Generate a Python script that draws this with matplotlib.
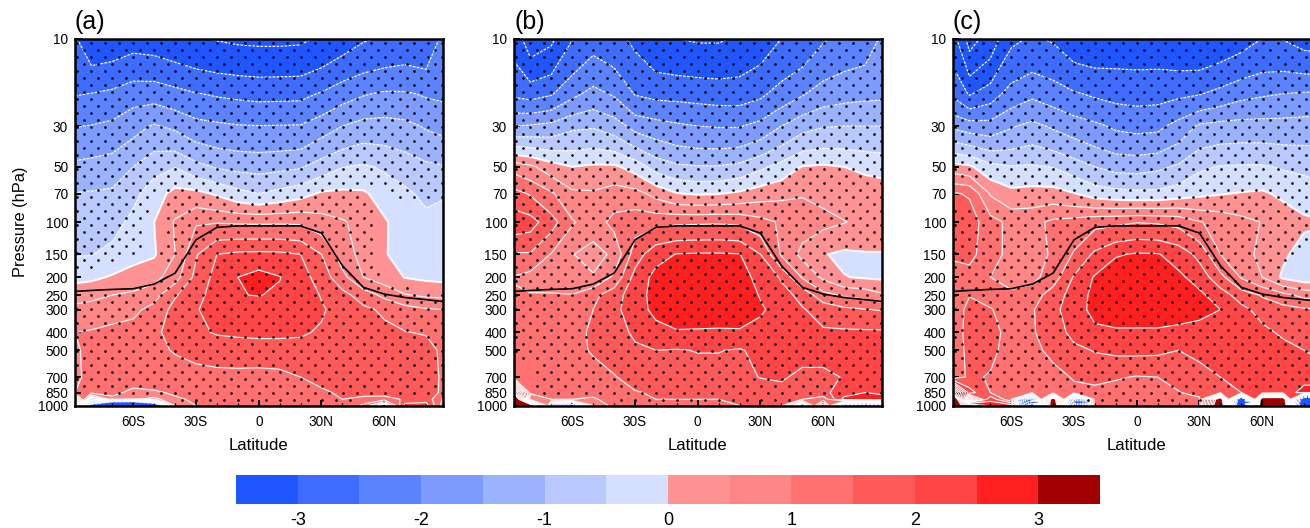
#to plot
import matplotlib
matplotlib.use('Agg')
import matplotlib.pyplot as plt
import numpy as np
from matplotlib.path import Path

plt.rcParams['font.family'] = ['Liberation Sans', 'DejaVu Sans']

### values
lats = [-87.86, -80, -70, -60, -50, -40, -30, -20, -10, 0, 10, 20, 30, 40, 50, 60, 70, 80, 87.86]
pres = [10, 20, 30, 50, 70, 100, 150, 200, 250, 300, 400, 500, 700, 850, 925, 1000]

temp_a = [
    [-2.95, -3.35, -3.3, -3.2, -3.25, -3.35, -3.45, -3.53, -3.58, -3.6, -3.6, -3.58, -3.43, -3.25, -3.05, -2.95, -2.85, -2.9, -2.4],
    [-2.53, -2.49, -2.4, -2.21, -2.2, -2.34, -2.48, -2.55, -2.6, -2.64, -2.63, -2.62, -2.46, -2.2, -2.04, -1.94, -1.95, -2.05, -2.1],
    [-2.02, -1.98, -1.89, -1.66, -1.45, -1.6, -1.83, -1.91, -1.97, -1.99, -1.98, -1.97, -1.73, -1.5, -1.32, -1.3, -1.37, -1.55, -1.63],
    [-1.38, -1.33, -1.25, -1.0, -0.65, -0.52, -0.85, -1.05, -1.13, -1.16, -1.12, -1.05, -0.77, -0.52, -0.43, -0.57, -0.73, -0.9, -0.96],
    [-0.98, -0.96, -0.92, -0.62, -0.25, 0.17, 0.14, -0.07, -0.35, -0.5, -0.35, -0.18, 0.07, 0.11, 0.07, -0.2, -0.4, -0.63, -0.55],
    [-0.77, -0.76, -0.69, -0.37, 0.0, 0.55, 0.95, 0.97, 0.94, 0.93, 0.94, 0.93, 0.72, 0.55, 0.33, 0.06, -0.25, -0.35, -0.3],
    [-0.53, -0.52, -0.35, -0.12, -0.05, 0.5, 1.45, 2.0, 2.1, 2.12, 2.1, 2.0, 1.5, 0.75, 0.33, 0.05, -0.25, -0.3, -0.3],
    [-0.14, -0.1, 0.05, 0.15, 0.33, 0.78, 1.65, 2.17, 2.5, 2.7, 2.52, 2.2, 1.78, 1.15, 0.5, 0.25, -0.02, -0.1, -0.13],
    [0.3, 0.38, 0.5, 0.6, 0.8, 1.45, 1.85, 2.2, 2.48, 2.52, 2.42, 2.25, 1.97, 1.66, 1.27, 0.87, 0.53, 0.42, 0.38],
    [0.63, 0.68, 0.77, 0.88, 1.17, 1.67, 1.97, 2.17, 2.25, 2.25, 2.25, 2.2, 2.05, 1.82, 1.6, 1.42, 1.2, 1.05, 1.0],
    [1.0, 1.05, 1.15, 1.2, 1.42, 1.65, 1.93, 2.03, 2.05, 2.07, 2.07, 2.05, 1.95, 1.8, 1.7, 1.62, 1.52, 1.46, 1.4],
    [0.9, 1.2, 1.25, 1.3, 1.35, 1.55, 1.67, 1.8, 1.85, 1.85, 1.85, 1.85, 1.83, 1.8, 1.8, 1.78, 1.75, 1.7, 1.4],
    [0.9, 1.15, 1.2, 1.22, 1.25, 1.19, 1.3, 1.3, 1.3, 1.28, 1.33, 1.5, 1.7, 1.8, 1.85, 1.9, 1.9, 1.85, 1.4],
    [1.0, 1.15, 1.1, 0.9, 0.95, 1.05, 1.1, 1.12, 1.12, 1.15, 1.2, 1.25, 1.4, 1.6, 1.75, 1.8, 1.8, 1.8, 1.4],
    [3.4, -0.8, 0.9, 0.6, 0.3, 0.95, 1.05, 1.1, 1.1, 1.15, 1.2, 1.3, 1.4, 1.5, 1.3, 1.2, 1.6, 1.8, 1.0],
    [1.0, -6, -14, -14, -8, 0.8, 1.0, 1.1, 1.1, 1.15, 1.2, 1.3, 1.4, 1.45, 0.9, -0.5, 2.2, 2.2, 0.8],
]

temp_b = [
    [-3.2, -3.8, -3.6, -3.02, -2.7, -2.85, -3.1, -3.4, -3.5, -3.55, -3.55, -3.45, -3.25, -3.0, -2.85, -2.55, -2.35, -2.25, -1.95],
    [-2.6, -2.7, -2.55, -2.13, -1.85, -2.06, -2.53, -2.64, -2.65, -2.68, -2.72, -2.72, -2.6, -2.3, -2.05, -1.77, -1.67, -1.62, -1.6],
    [-1.5, -1.45, -1.35, -1.1, -1.05, -1.25, -1.67, -1.8, -1.92, -2.0, -2.03, -2.03, -1.85, -1.5, -1.17, -1.03, -1.0, -1.0, -1.0],
    [0.8, 0.6, 0.22, 0.0, 0.08, 0.08, -0.2, -0.7, -0.91, -0.97, -0.97, -0.86, -0.6, -0.32, 0.02, 0.07, 0.0, -0.11, -0.18],
    [1.67, 1.45, 1.07, 0.6, 0.56, 0.74, 0.68, 0.34, 0.02, -0.05, -0.02, 0.09, 0.27, 0.38, 0.47, 0.39, 0.25, 0.3, 0.28],
    [2.3, 2.2, 1.7, 1.05, 0.75, 1.15, 1.3, 1.35, 1.42, 1.43, 1.45, 1.4, 1.17, 0.93, 0.72, 0.62, 0.52, 0.38, 0.3],
    [1.45, 1.45, 0.97, 0.52, 0.3, 0.6, 1.75, 2.33, 2.52, 2.55, 2.55, 2.52, 2.0, 0.93, 0.36, 0.03, -0.1, -0.04, -0.03],
    [0.97, 0.82, 0.8, 0.55, 0.55, 1.1, 2.18, 2.65, 2.8, 2.85, 2.82, 2.75, 2.3, 1.95, 0.95, 0.4, 0.02, -0.05, -0.08],
    [1.05, 1.03, 1.03, 1.02, 1.35, 1.8, 2.25, 2.7, 2.85, 2.9, 2.85, 2.75, 2.47, 2.15, 1.88, 1.15, 0.92, 0.8, 0.58],
    [1.1, 1.12, 1.15, 1.2, 1.5, 1.88, 2.25, 2.65, 2.8, 2.82, 2.8, 2.72, 2.55, 2.35, 2.03, 1.85, 1.62, 1.52, 1.47],
    [1.2, 1.2, 1.25, 1.3, 1.6, 1.75, 2.1, 2.3, 2.45, 2.43, 2.42, 2.45, 2.37, 2.25, 2.18, 2.05, 2.08, 2.08, 2.08],
    [1.25, 1.25, 1.28, 1.35, 1.55, 1.7, 1.9, 2.0, 1.97, 2.02, 2.02, 1.95, 2.15, 2.25, 2.3, 2.3, 2.35, 2.35, 2.35],
    [1.1, 1.2, 1.25, 1.27, 1.3, 1.47, 1.67, 1.75, 1.78, 1.8, 1.8, 1.85, 2.02, 2.1, 1.8, 1.8, 2.05, 2.2, 2.25],
    [6, 1.1, 1.2, 1.2, 1.2, 1.3, 1.47, 1.55, 1.55, 1.58, 1.6, 1.65, 1.7, 1.75, 1.85, 1.9, 2.2, 2.5, 2.3],
    [9, 0.5, 1, 1, 0.9, 1.3, 1.4, 1.5, 1.5, 1.5, 1.5, 1.55, 1.6, 1.7, 1.5, 1.2, 2.7, 2.9, 3.0],
    [10, 8, -1, -1.5, 0.5, 1.2, 1.4, 1.5, 1.5, 1.5, 1.5, 1.5, 1.6, 1.6, -1, 3, -2.5, -3, -2.5],
]

temp_c = [
    [-3.3, -4.2, -3.8, -3.1, -2.95, -3.05, -3.3, -3.35, -3.3, -3.3, -3.3, -3.4, -3.45, -3.35, -3.2, -3.0, -3.02, -3.2, -3.25],
    [-2.6, -3.05, -2.75, -2.3, -2.1, -2.25, -2.45, -2.57, -2.65, -2.68, -2.66, -2.6, -2.53, -2.35, -2.15, -2.06, -2.0, -1.95, -1.95],
    [-1.6, -1.75, -1.8, -1.55, -1.37, -1.57, -1.75, -1.9, -2.08, -2.15, -2.12, -1.82, -1.42, -1.33, -1.3, -1.3, -1.3, -1.28, -1.25],
    [0.2, 0.08, -0.35, -0.47, -0.44, -0.52, -0.75, -1.0, -1.16, -1.18, -1.1, -0.93, -0.58, -0.47, -0.45, -0.45, -0.55, -0.6, -0.65],
    [1.55, 1.45, 0.45, 0.15, 0.2, 0.2, 0.02, -0.23, -0.33, -0.38, -0.37, -0.24, -0.11, -0.03, 0.03, 0.07, -0.1, -0.25, -0.35],
    [1.7, 1.75, 1.2, 0.85, 0.85, 1.1, 1.2, 1.35, 1.4, 1.48, 1.45, 1.35, 1.03, 0.85, 0.65, 0.48, 0.3, 0.1, 0.05],
    [1.6, 1.65, 1.2, 0.85, 0.85, 1.05, 1.55, 2.1, 2.45, 2.55, 2.53, 2.3, 1.85, 1.0, 0.65, 0.4, 0.1, -0.25, -0.3],
    [1.2, 1.3, 1.0, 0.9, 0.85, 1.25, 2.05, 2.55, 2.85, 2.9, 2.85, 2.6, 2.3, 1.65, 0.95, 0.5, -0.1, -0.3, -0.3],
    [1.05, 1.48, 1.2, 1.05, 1.25, 1.75, 2.2, 2.65, 2.85, 2.95, 2.9, 2.75, 2.6, 2.25, 1.75, 1.45, 1.15, 0.85, 0.7],
    [1.2, 1.65, 1.55, 1.15, 1.45, 1.9, 2.2, 2.7, 2.85, 2.85, 2.85, 2.75, 2.65, 2.5, 2.15, 1.8, 1.68, 1.57, 1.55],
    [1.2, 1.7, 1.7, 1.3, 1.45, 1.75, 2.15, 2.35, 2.4, 2.4, 2.4, 2.35, 2.3, 2.25, 2.2, 2.15, 1.9, 1.75, 1.65],
    [1.2, 1.65, 1.65, 1.25, 1.35, 1.65, 1.88, 2.03, 2.1, 2.12, 2.1, 2.0, 2.1, 2.2, 2.25, 2.25, 2.2, 2.0, 1.85],
    [1.2, 1.6, 1.45, 1.2, 1.2, 1.3, 1.55, 1.62, 1.55, 1.47, 1.5, 1.72, 1.85, 2.0, 2.2, 2.3, 2.3, 2.3, 2.3],
    [5.5, 2.2, 1.5, 1.1, 1.15, 1.2, 1.35, 1.38, 1.3, 1.3, 1.35, 1.47, 1.7, 1.85, 2.0, 2.1, 2.2, 2.7, 2.7],
    [9, 0, 2.4, 1.0, -4, 8, -5, 1.3, 1.25, 1.25, 1.3, 1.4, 1.4, 8, -8, 8, 8, -8, -8],
    [9, 4, 2.7, 2.8, -6, 9, -5, 1.3, 1.2, 1.2, 1.25, 1.3, 1.35, 9, -9, 9, 9, -9, -9],
]

# tropopause, same in all panels
trop_p = [239, 236, 233, 231, 218, 190, 125, 107, 105, 105, 105, 105, 115, 173, 227, 247, 258, 265, 271]

# areas without stippling as (lat, hPa) outlines
blank_a = [
    [(43.8, 64), (62, 66), (70, 79), (88, 79), (88, 236), (60.5, 222), (57, 162), (56, 81)],
    [(-88, 184), (-79, 184), (-68, 166), (-55, 140), (-53.6, 90), (-48.8, 73), (-45.6, 73), (-47, 163),
     (-37.6, 179), (-44, 200), (-60, 227), (-88, 258)],
    [(-88, 800), (-74, 800), (-74, 916), (-40, 916), (-40, 1000), (-88, 1000)],
    [(50, 923), (88, 923), (88, 1000), (50, 1000)],
]
blank_b = [
    [(60.9, 156), (71.3, 142), (88, 142), (88, 218), (70.5, 207)],
    [(-88, 600), (-79, 600), (-79, 923), (-40, 923), (-40, 1000), (-88, 1000)],
    [(50, 923), (88, 923), (88, 1000), (50, 1000)],
]
blank_c = [
    [(63.8, 205), (69.4, 169), (83, 119), (88, 119), (88, 232), (75, 222)],
    [(-88, 58), (-59, 62), (-59, 87), (-88, 87)],
    [(-88, 700), (-79, 700), (-79, 850), (-28, 850), (-28, 1000), (-88, 1000)],
    [(33, 850), (88, 850), (88, 1000), (33, 1000)],
]

levels = [-3, -2.5, -2, -1.5, -1, -0.5, 0, 0.5, 1, 1.5, 2, 2.5, 3]
colors = ['#1f56ff', '#3d6cff', '#5c83ff', '#7d9bff', '#9bb2ff', '#b9c9ff', '#d5dfff',
          '#ff9292', '#ff8686', '#ff7070', '#ff5a5a', '#ff4545', '#ff1f1f', '#a00000']
p_ticks = [10, 30, 50, 70, 100, 150, 200, 250, 300, 400, 500, 700, 850, 1000]
lat_ticks = [-60, -30, 0, 30, 60]
lat_labels = ['60S', '30S', '0', '30N', '60N']
panel_names = ['(a)', '(b)', '(c)']

W = 1310.0
H = 528.0


def stipple_points(blanks):
    # staggered lattice, evenly spaced in latitude and log pressure
    pts = []
    for k in range(52):
        p = 10 * 10 ** ((4.7 + 7.0 * k) / 183.5)
        start = -86.8 if k % 2 == 0 else -83.45
        for lat in np.arange(start, 88, 6.7):
            pts.append((lat, p))
    pts = np.array(pts)
    keep = np.ones(len(pts), dtype=bool)
    for outline in blanks:
        # test in log pressure so the outline edges stay straight on the page
        out = np.array(outline, dtype=float)
        out[:, 1] = np.log10(out[:, 1])
        test = np.column_stack([pts[:, 0], np.log10(pts[:, 1])])
        keep &= ~Path(out).contains_points(test)
    return pts[keep]


def draw_panel(ax, data, blanks, name, show_ylabel):
    z = np.array(data, dtype=float)
    cf = ax.contourf(lats, pres, z, levels=levels, colors=colors, extend='both')

    # white contours, dashed below zero, heavier at zero
    line_levels = np.arange(-5, 7, 0.5)
    styles = [(0, (2.2, 1.2)) if v < 0 else 'solid' for v in line_levels]
    widths = [1.4 if v == 0 else 0.85 for v in line_levels]
    ax.contour(lats, pres, z, levels=line_levels, colors='white', linestyles=styles, linewidths=widths)

    pts = stipple_points(blanks)
    ax.plot(pts[:, 0], pts[:, 1], 'o', color='black', ms=1.9, mew=0)
    ax.plot(lats, trop_p, color='black', lw=1.2)

    ax.set_yscale('log')
    ax.set_xlim(-87.86, 87.86)
    ax.set_ylim(1000, 10)
    ax.set_yticks(p_ticks)
    ax.set_yticklabels([str(p) for p in p_ticks], fontsize=9.8)
    ax.yaxis.set_minor_locator(matplotlib.ticker.NullLocator())
    ax.set_xticks(lat_ticks)
    ax.set_xticklabels(lat_labels, fontsize=9.8)
    ax.set_xticks(np.arange(-80, 90, 10), minor=True)
    ax.tick_params(axis='both', which='major', direction='in', length=4, width=1.4, pad=5)
    ax.tick_params(axis='x', which='major', pad=6.5)
    ax.tick_params(axis='x', which='minor', direction='in', length=2.2, width=0.9)
    for s in ax.spines.values():
        s.set_linewidth(1.8)
    ax.set_xlabel('Latitude', fontsize=12, labelpad=6.5)
    if show_ylabel:
        ax.set_ylabel('Pressure (hPa)', fontsize=11.8, labelpad=7)
    ax.text(0, 1.012, name, transform=ax.transAxes, fontsize=18, ha='left', va='bottom')
    return cf


def main():
    fig = plt.figure(figsize=(W / 100, H / 100), dpi=100)
    lefts = [75, 514, 953]
    all_data = [temp_a, temp_b, temp_c]
    all_blanks = [blank_a, blank_b, blank_c]
    for i in range(3):
        ax = fig.add_axes([lefts[i] / W, (H - 405.5) / H, 367.5 / W, 367 / H])
        cf = draw_panel(ax, all_data[i], all_blanks[i], panel_names[i], i == 0)

    cax = fig.add_axes([236 / W, (H - 504) / H, 864 / W, 29 / H])
    cbar = fig.colorbar(cf, cax=cax, orientation='horizontal', extend='both',
                        extendrect=True, extendfrac='auto', spacing='uniform', drawedges=False)
    cbar.outline.set_visible(False)
    cbar.set_ticks([-3, -2, -1, 0, 1, 2, 3])
    cbar.set_ticklabels(['-3', '-2', '-1', '0', '1', '2', '3'])
    cax.tick_params(axis='x', length=0, labelsize=13, pad=6)
    cax.minorticks_off()

    fig.savefig('out.png', dpi=100)


if __name__ == "__main__":
    main()
